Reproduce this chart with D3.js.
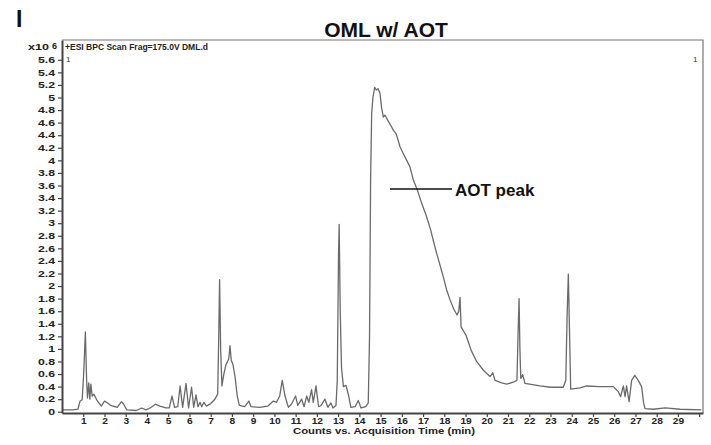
<!DOCTYPE html>
<html>
<head>
<meta charset="utf-8">
<script src="https://cdn.jsdelivr.net/npm/d3@7"></script>
<style>
  body { margin: 0; background: #fff; }
  text { font-family: "Liberation Sans", Arial, sans-serif; }
</style>
</head>
<body>
<div id="chart"></div>
<script>
// retention time (min)
const times = [
  0.0, 0.5, 0.75, 0.85, 0.95, 1.02, 1.1, 1.16, 1.2, 1.26, 1.31, 1.36, 1.42, 1.5, 1.65, 1.85,
  2.0, 2.1, 2.3, 2.6, 2.8, 2.9, 3.05, 3.5, 3.75, 3.95, 4.15, 4.4, 4.6, 4.9,
  5.05, 5.18, 5.3, 5.45, 5.56, 5.68, 5.84, 5.96, 6.1, 6.2, 6.31, 6.4, 6.5, 6.58, 6.68, 6.8,
  7.0, 7.2, 7.33, 7.38, 7.42, 7.47, 7.53, 7.62, 7.72, 7.85, 7.91, 7.97, 8.05, 8.15, 8.25, 8.35,
  8.6, 8.8, 8.9, 9.3, 9.7, 9.95, 10.1, 10.25, 10.37, 10.5, 10.66, 10.8,
  11.0, 11.1, 11.28, 11.4, 11.52, 11.62, 11.75, 11.83, 11.96, 12.08, 12.2, 12.38, 12.52, 12.66, 12.76, 12.9,
  12.96, 13.02, 13.05, 13.1, 13.16, 13.25, 13.37, 13.5, 13.6, 13.8, 13.95, 14.08, 14.3, 14.42,
  14.48, 14.5, 14.53, 14.58, 14.64, 14.72, 14.8, 14.88, 14.97, 15.05, 15.13, 15.2, 15.29, 15.4,
  15.52, 15.62, 15.72, 15.8, 15.91, 16.05, 16.23, 16.38, 16.54, 16.73, 16.93, 17.14, 17.36, 17.5,
  17.64, 17.8, 17.95, 18.1, 18.27, 18.45, 18.6, 18.68, 18.74, 18.79, 19.02, 19.26, 19.52, 19.84,
  20.15, 20.28, 20.39, 20.7, 20.94, 21.25, 21.42, 21.47, 21.52, 21.56, 21.6, 21.69, 21.8,
  22.5, 23.0, 23.6, 23.72, 23.78, 23.84, 23.9, 23.95, 24.39, 24.7, 25.3, 25.96,
  26.19, 26.3, 26.43, 26.51, 26.58, 26.7, 26.82, 26.97, 27.13, 27.29, 27.38, 27.45, 27.84, 28.4, 29.1, 30.1
]
// counts (x10^6)
const counts = [
  0.03, 0.03, 0.04, 0.17, 0.19, 0.6, 1.27, 0.5, 0.22, 0.46, 0.2, 0.44, 0.25, 0.28, 0.18, 0.09,
  0.17, 0.15, 0.1, 0.07, 0.16, 0.12, 0.03, 0.02, 0.06, 0.03, 0.06, 0.12, 0.09, 0.06,
  0.06, 0.25, 0.07, 0.08, 0.41, 0.07, 0.45, 0.06, 0.39, 0.07, 0.27, 0.08, 0.15, 0.08, 0.15, 0.09,
  0.13, 0.2, 0.28, 1.2, 2.1, 1.0, 0.41, 0.6, 0.75, 0.84, 1.05, 0.82, 0.75, 0.55, 0.25, 0.1,
  0.08, 0.17, 0.08, 0.07, 0.09, 0.17, 0.15, 0.25, 0.5, 0.25, 0.07, 0.12,
  0.25, 0.1, 0.2, 0.08, 0.25, 0.15, 0.35, 0.15, 0.41, 0.08, 0.1, 0.2, 0.07, 0.14, 0.06, 0.1,
  0.5, 2.5, 2.98, 1.6, 0.7, 0.4, 0.42, 0.25, 0.07, 0.08, 0.18, 0.06, 0.08, 0.14,
  1.2, 2.2, 3.7, 4.75, 5.0, 5.16, 5.12, 5.14, 5.07, 4.83, 4.69, 4.72, 4.67, 4.6,
  4.53, 4.47, 4.43, 4.35, 4.22, 4.12, 4.0, 3.9, 3.69, 3.53, 3.32, 3.13, 2.89, 2.7,
  2.52, 2.33, 2.15, 1.95, 1.78, 1.63, 1.54, 1.6, 1.82, 1.35, 1.22, 0.98, 0.8, 0.66,
  0.56, 0.62, 0.5, 0.46, 0.44, 0.47, 0.5, 1.2, 1.8, 1.0, 0.53, 0.59, 0.45,
  0.41, 0.39, 0.39, 0.5, 1.5, 2.19, 1.2, 0.36, 0.38, 0.41, 0.4, 0.4,
  0.32, 0.24, 0.41, 0.24, 0.41, 0.16, 0.5, 0.58, 0.5, 0.4, 0.15, 0.05, 0.04, 0.06, 0.04, 0.03
]
const xTickValues = [1, 2, 3, 4, 5, 6, 7, 8, 9, 10, 11, 12, 13, 14, 15, 16, 17, 18, 19, 20,
  21, 22, 23, 24, 25, 26, 27, 28, 29, 30]
const xTickLabels = ["1", "2", "3", "4", "5", "6", "7", "8", "9", "10", "11", "12", "13", "14", "15",
  "16", "17", "18", "19", "20", "21", "22", "23", "24", "25", "26", "27", "28", "29", ""]
const yTickValues = [0, 0.2, 0.4, 0.6, 0.8, 1, 1.2, 1.4, 1.6, 1.8, 2, 2.2, 2.4, 2.6, 2.8, 3,
  3.2, 3.4, 3.6, 3.8, 4, 4.2, 4.4, 4.6, 4.8, 5, 5.2, 5.4, 5.6]
const annotation = { label: "AOT peak" }

const dataset = times.map((t, i) => ({ t: t, v: counts[i] }))

// dimensions
const width = 711
const height = 445
const plot = { left: 62, right: 703, top: 40, bottom: 413 }

const svg = d3.select("#chart")
  .append("svg")
  .attr("width", width)
  .attr("height", height)

svg.append("rect")
  .attr("width", width)
  .attr("height", height)
  .attr("fill", "#fff")

// scales
const xScale = d3.scaleLinear()
  .domain([0, 30.18])
  .range([plot.left, plot.right])
const yScale = d3.scaleLinear()
  .domain([-0.02, 5.915])
  .range([plot.bottom, plot.top])

// frame (top / right)
svg.append("path")
  .attr("d", `M${plot.left},${plot.top}H${plot.right}V${plot.bottom}`)
  .attr("fill", "none")
  .attr("stroke", "#777")
  .attr("stroke-width", 1.2)

// trace
const lineGenerator = d3.line()
  .x(d => xScale(d.t))
  .y(d => yScale(d.v))
svg.append("path")
  .attr("d", lineGenerator(dataset))
  .attr("fill", "none")
  .attr("stroke", "#6a6a6a")
  .attr("stroke-width", 1.3)
  .attr("stroke-linejoin", "round")

// y axis
const yAxis = svg.append("g")
  .attr("transform", `translate(${plot.left},0)`)
  .call(d3.axisLeft(yScale)
    .tickValues(yTickValues)
    .tickSize(4)
    .tickPadding(3)
    .tickSizeOuter(0)
    .tickFormat(d3.format("~g")))
yAxis.select(".domain").attr("stroke", "#444").attr("stroke-width", 2)
yAxis.selectAll(".tick line").attr("stroke", "#444").attr("stroke-width", 1.2)
yAxis.selectAll(".tick text")
  .attr("fill", "#222")
  .style("font-size", "8.5px")
  .style("font-weight", "bold")
  .attr("x", -7 / 1.45)
  .attr("transform", "scale(1.45,1)")

// x axis
const xAxis = svg.append("g")
  .attr("transform", `translate(0,${plot.bottom})`)
  .call(d3.axisBottom(xScale)
    .tickValues(xTickValues)
    .tickSize(4)
    .tickPadding(1)
    .tickSizeOuter(0)
    .tickFormat((d, i) => xTickLabels[i]))
xAxis.select(".domain").attr("stroke", "#444").attr("stroke-width", 2)
xAxis.selectAll(".tick line").attr("stroke", "#444").attr("stroke-width", 1.2)
xAxis.selectAll(".tick text")
  .attr("fill", "#222")
  .style("font-size", "8.5px")
  .style("font-weight", "bold")
  .attr("transform", "scale(1.2,1)")

svg.append("text")
  .attr("x", 384)
  .attr("y", 434)
  .attr("text-anchor", "middle")
  .attr("textLength", 182)
  .attr("lengthAdjust", "spacingAndGlyphs")
  .style("font-size", "8.5px")
  .style("font-weight", "bold")
  .attr("fill", "#222")
  .text("Counts vs. Acquisition Time (min)")

// header texts
svg.append("text")
  .attr("x", 65)
  .attr("y", 50)
  .attr("textLength", 143)
  .attr("lengthAdjust", "spacingAndGlyphs")
  .style("font-size", "9.5px")
  .style("font-weight", "bold")
  .attr("fill", "#222")
  .text("+ESI BPC Scan Frag=175.0V DML.d")

svg.append("text")
  .attr("x", 28)
  .attr("y", 50)
  .attr("textLength", 21)
  .attr("lengthAdjust", "spacingAndGlyphs")
  .style("font-size", "8.5px")
  .style("font-weight", "bold")
  .attr("fill", "#222")
  .text("x10")
svg.append("text")
  .attr("x", 52)
  .attr("y", 49)
  .style("font-size", "9px")
  .style("font-weight", "bold")
  .attr("fill", "#222")
  .text("6")

svg.append("text")
  .attr("x", 66)
  .attr("y", 62)
  .style("font-size", "8px")
  .attr("fill", "#333")
  .text("1")
svg.append("text")
  .attr("x", 693)
  .attr("y", 62)
  .style("font-size", "8px")
  .attr("fill", "#333")
  .text("1")

svg.append("text")
  .attr("x", 386)
  .attr("y", 37)
  .attr("text-anchor", "middle")
  .style("font-size", "21px")
  .style("font-weight", "bold")
  .attr("fill", "#111")
  .text("OML w/ AOT")

svg.append("text")
  .attr("x", 16)
  .attr("y", 27)
  .style("font-size", "23px")
  .style("font-weight", "bold")
  .attr("fill", "#111")
  .text("I")

// annotation
const annY = 189
svg.append("line")
  .attr("x1", 390)
  .attr("x2", 452)
  .attr("y1", annY)
  .attr("y2", annY)
  .attr("stroke", "#111")
  .attr("stroke-width", 1.5)
svg.append("text")
  .attr("x", 455)
  .attr("y", 196)
  .style("font-size", "17px")
  .style("font-weight", "bold")
  .attr("fill", "#111")
  .text(annotation.label)
</script>
</body>
</html>
